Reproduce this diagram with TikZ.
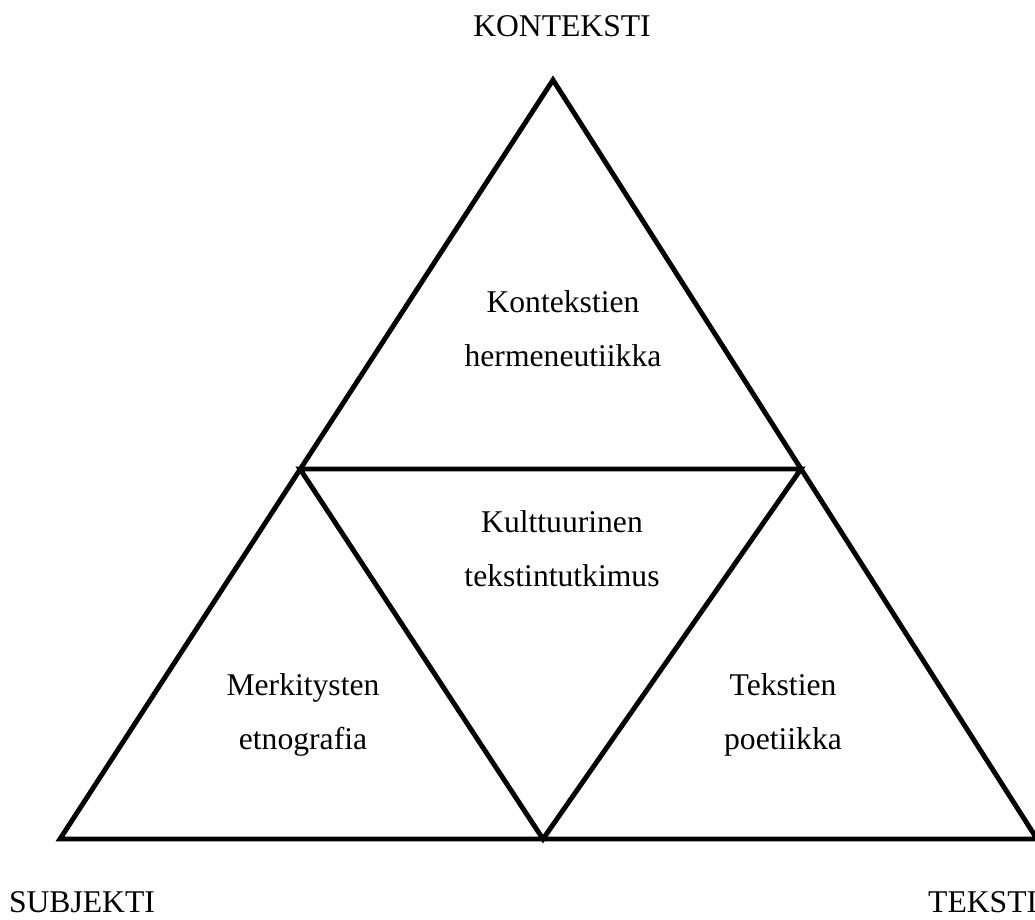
\documentclass[tikz,border=0pt]{standalone}
\usepackage{fontspec}
\setmainfont{Liberation Serif}
\usepackage{xcolor}
\usepackage{tikz}
\definecolor{TRInk}{HTML}{000000}
\definecolor{TRPaper}{HTML}{FFFFFF}

\begin{document}
\begin{tikzpicture}[x=1cm,y=1cm,
  edge/.style={TRInk,line width=2.8pt,line join=miter},
  corner/.style={anchor=base,font=\fontsize{18pt}{22pt}\selectfont},
  field/.style={anchor=base,align=center,font=\fontsize{18pt}{30.8pt}\selectfont}]
\path[use as bounding box] (0,0) rectangle (20.70,18.40);
\fill[TRPaper] (0,0) rectangle (20.70,18.40);
\coordinate (kontA) at (11.06,16.80);
\coordinate (subjA) at (1.20,1.62);
\coordinate (tekstA) at (20.74,1.62);
\coordinate (midL) at (6.00,9.02);
\coordinate (midR) at (16.02,9.02);
\coordinate (midB) at (10.86,1.62);
\draw[edge] (kontA) -- (subjA) -- (tekstA) -- cycle;
\draw[edge] (midL) -- (midR) -- (midB) -- cycle;
\node[corner] (konteksti) at (11.24,17.66) {KONTEKSTI};
\node[corner] (subjekti) at (1.64,0.14) {SUBJEKTI};
\node[corner,anchor=base west] (teksti) at (18.44,0.14) {TEKSTI};
\node[field] (herm) at (11.26,11.06) {Kontekstien\\hermeneutiikka};
\node[field] (kult) at (11.24,6.66) {Kulttuurinen\\tekstintutkimus};
\node[field] (etno) at (6.06,3.40) {Merkitysten\\etnografia};
\node[field] (poet) at (15.66,3.40) {Tekstien\\poetiikka};
\end{tikzpicture}
\end{document}
